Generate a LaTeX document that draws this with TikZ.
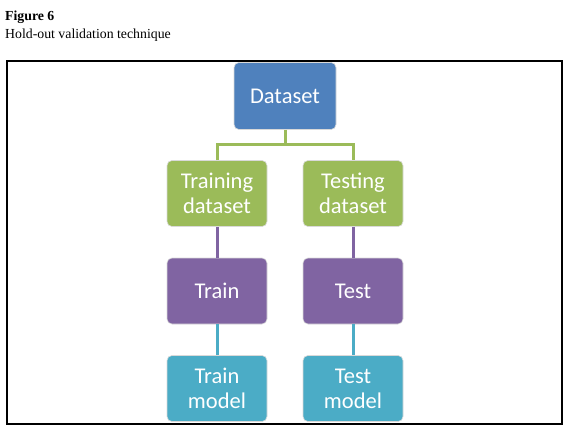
\documentclass[tikz,border=0pt]{standalone}
\usepackage{fontspec}
\setmainfont{Liberation Serif}
\newfontfamily\boxfont{Carlito}
\usepackage{xcolor}
\usetikzlibrary{shapes,arrows,positioning}

\definecolor{dsblue}{HTML}{4F81BD}
\definecolor{dsgreen}{HTML}{9BBB59}
\definecolor{dspurple}{HTML}{8064A2}
\definecolor{dsteal}{HTML}{4BACC6}

\begin{document}
\begin{tikzpicture}[x=1pt, y=-1pt, node distance=97.5pt]
    % Define styles
    \tikzstyle{box} = [rectangle, rounded corners=5pt, minimum width=100pt, minimum height=66pt, text centered, align=center, text=white, draw=white!85!black, line width=0.6pt, font=\boxfont\fontsize{22.5}{25}\selectfont]
    \tikzstyle{link} = [line width=3pt]
    \useasboundingbox (0,0) rectangle (570,428);

    % Caption
    \node [anchor=base west, inner sep=0pt, font=\bfseries\fontsize{13.8}{15}\selectfont] (figno) at (5,21) {Figure 6};
    \node [anchor=base west, inner sep=0pt, font=\fontsize{13.8}{15}\selectfont] (title) at (5,38) {Hold-out validation technique};
    \draw [line width=1.3pt] (7,61) rectangle (562,424);

    % Top - whole data
    \node [box, fill=dsblue, minimum width=102pt, minimum height=67pt] (dataset) at (285,96) {Dataset};

    % Left side - training branch
    \node [box, fill=dsgreen, below of=dataset, xshift=-68pt] (trainset) {Training\\dataset};
    \node [box, fill=dspurple, below of=trainset] (train) {Train};
    \node [box, fill=dsteal, below of=train] (trainmodel) {Train\\model};

    % Right side - testing branch
    \node [box, fill=dsgreen, below of=dataset, xshift=68pt] (testset) {Testing\\dataset};
    \node [box, fill=dspurple, below of=testset] (test) {Test};
    \node [box, fill=dsteal, below of=test] (testmodel) {Test\\model};

    % Split of the data
    \coordinate [below=15pt of dataset.south] (split);
    \draw [link, dsgreen] (dataset.south) -- (split);
    \draw [link, dsgreen] (trainset.north) |- (split) -| (testset.north);

    % Vertical links in each branch
    \draw [link, dspurple] (trainset) -- (train);
    \draw [link, dspurple] (testset) -- (test);
    \draw [link, dsteal] (train) -- (trainmodel);
    \draw [link, dsteal] (test) -- (testmodel);
\end{tikzpicture}
\end{document}
